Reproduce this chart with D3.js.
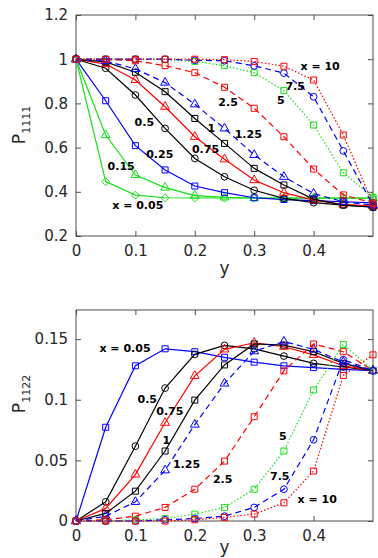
<!DOCTYPE html>
<html>
<head>
<meta charset="utf-8">
<script src="https://cdn.jsdelivr.net/npm/d3@7"></script>
<style>
    body { margin: 0; background: #fff; }
    svg { display: block; }
</style>
</head>
<body>
<div id="chart"></div>
<script>
// sampling points along y (shared by every curve)
const yGrid = [0, 0.05, 0.1, 0.15, 0.2, 0.25, 0.3, 0.35, 0.4, 0.45, 0.5]

// P1111, one array per x
const p1111_x005 = [1, 0.446, 0.385, 0.373, 0.372, 0.372, 0.372, 0.372, 0.372, 0.372, 0.372]
const p1111_x015 = [1, 0.657, 0.476, 0.419, 0.383, 0.375, 0.372, 0.371, 0.371, 0.371, 0.371]
const p1111_x025 = [1, 0.812, 0.609, 0.499, 0.426, 0.396, 0.373, 0.365, 0.36, 0.355, 0.35]
const p1111_x05 = [1, 0.959, 0.838, 0.687, 0.551, 0.468, 0.407, 0.37, 0.351, 0.34, 0.332]
const p1111_x075 = [1, 0.978, 0.906, 0.785, 0.649, 0.547, 0.453, 0.396, 0.362, 0.343, 0.335]
const p1111_x1 = [1, 0.988, 0.941, 0.853, 0.732, 0.619, 0.506, 0.431, 0.367, 0.34, 0.33]
const p1111_x125 = [1, 0.992, 0.956, 0.894, 0.796, 0.687, 0.567, 0.468, 0.392, 0.355, 0.34]
const p1111_x25 = [1, 0.998, 0.993, 0.971, 0.939, 0.873, 0.778, 0.649, 0.503, 0.386, 0.35]
const p1111_x5 = [1, 1, 1, 0.998, 0.99, 0.971, 0.939, 0.858, 0.702, 0.486, 0.375]
const p1111_x75 = [1, 1, 1, 1, 0.995, 0.993, 0.97, 0.937, 0.83, 0.585, 0.34]
const p1111_x10 = [1, 1, 1, 1, 1, 0.998, 0.99, 0.968, 0.906, 0.657, 0.345]

// P1122
const p1122_x005 = [0, 0.0773, 0.128, 0.142, 0.1396, 0.135, 0.131, 0.128, 0.1265, 0.125, 0.124]
const p1122_x05 = [0, 0.0158, 0.0617, 0.1096, 0.1374, 0.1448, 0.142, 0.136, 0.13, 0.127, 0.124]
const p1122_x075 = [0, 0.0104, 0.0383, 0.081, 0.1197, 0.1415, 0.147, 0.1437, 0.137, 0.128, 0.124]
const p1122_x1 = [0, 0.0063, 0.0246, 0.0577, 0.0997, 0.1287, 0.146, 0.145, 0.1396, 0.13, 0.124]
const p1122_x125 = [0, 0.004, 0.0158, 0.0418, 0.0795, 0.1134, 0.14, 0.148, 0.1415, 0.131, 0.124]
const p1122_x25 = [0, 0.001, 0.004, 0.0112, 0.0262, 0.0494, 0.086, 0.1238, 0.146, 0.1396, 0.124]
const p1122_x5 = [0, 0, 0.001, 0.002, 0.0057, 0.0112, 0.0262, 0.0577, 0.108, 0.1456, 0.124]
const p1122_x75 = [0, 0, 0, 0.001, 0.002, 0.004, 0.0112, 0.0262, 0.067, 0.133, 0.124]
const p1122_x10 = [0, 0, 0, 0, 0.001, 0.003, 0.0057, 0.015, 0.0412, 0.12, 0.137]

// tick labels
const xTicks = [0, 0.1, 0.2, 0.3, 0.4]
const yTicks1111 = [0.2, 0.4, 0.6, 0.8, 1, 1.2]
const yTicks1122 = [0, 0.05, 0.1, 0.15]

// curve annotations (text, then where they sit in data units)
const labels1111 = ['x = 0.05', '0.15', '0.25', '0.5', '0.75', '1', '1.25', '2.5', '5', '7.5', 'x = 10']
const labelX1111 = [0.104, 0.076, 0.141, 0.115, 0.218, 0.228, 0.29, 0.256, 0.345, 0.369, 0.411]
const labelY1111 = [0.34, 0.518, 0.57, 0.713, 0.594, 0.687, 0.66, 0.806, 0.815, 0.879, 0.969]
const labels1122 = ['x = 0.05', '0.5', '0.75', '1', '1.25', '2.5', '5', '7.5', 'x = 10']
const labelX1122 = [0.0825, 0.12, 0.158, 0.152, 0.186, 0.247, 0.348, 0.343, 0.406]
const labelY1122 = [0.1424, 0.1005, 0.0904, 0.067, 0.0467, 0.0342, 0.0697, 0.0369, 0.0178]

const GREEN = '#17e017'
const BLUE = '#0000ff'
const RED = '#ff0000'
const BLACK = '#000000'
const DASHED = '6,4'
const DOTTED = '1.5,2'

const series1111 = [
    { values: p1111_x005, color: GREEN, dash: null, marker: 'diamond' },
    { values: p1111_x015, color: GREEN, dash: null, marker: 'triangle' },
    { values: p1111_x025, color: BLUE, dash: null, marker: 'square' },
    { values: p1111_x05, color: BLACK, dash: null, marker: 'circle' },
    { values: p1111_x075, color: RED, dash: null, marker: 'triangle' },
    { values: p1111_x1, color: BLACK, dash: null, marker: 'square' },
    { values: p1111_x125, color: BLUE, dash: DASHED, marker: 'triangle' },
    { values: p1111_x25, color: RED, dash: DASHED, marker: 'square' },
    { values: p1111_x5, color: GREEN, dash: DOTTED, marker: 'square' },
    { values: p1111_x75, color: BLUE, dash: DASHED, marker: 'circle' },
    { values: p1111_x10, color: RED, dash: DOTTED, marker: 'square' }
]

const series1122 = [
    { values: p1122_x005, color: BLUE, dash: null, marker: 'square' },
    { values: p1122_x05, color: BLACK, dash: null, marker: 'circle' },
    { values: p1122_x075, color: RED, dash: null, marker: 'triangle' },
    { values: p1122_x1, color: BLACK, dash: null, marker: 'square' },
    { values: p1122_x125, color: BLUE, dash: DASHED, marker: 'triangle' },
    { values: p1122_x25, color: RED, dash: DASHED, marker: 'square' },
    { values: p1122_x5, color: GREEN, dash: DOTTED, marker: 'square' },
    { values: p1122_x75, color: BLUE, dash: DASHED, marker: 'circle' },
    { values: p1122_x10, color: RED, dash: DOTTED, marker: 'square' }
]

const WIDTH = 378
const HEIGHT = 558
const AXIS_COLOR = '#4d4d4d'
const TEXT_COLOR = '#262626'
const TICK_FONT = '15px "DejaVu Sans", sans-serif'
const TICK_LEN = 5

const symbols = {
    square: d3.symbol().type(d3.symbolSquare).size(36),
    circle: d3.symbol().type(d3.symbolCircle).size(36),
    triangle: d3.symbol().type(d3.symbolTriangle).size(34),
    diamond: d3.symbol().type(d3.symbolDiamond2).size(40)
}

const svg = d3.select('#chart')
    .append('svg')
    .attr('width', WIDTH)
    .attr('height', HEIGHT)

function drawPanel(opts) {
    const xscale = d3.scaleLinear()
        .domain([0, 0.5])
        .range([opts.left, opts.right])
    const yscale = d3.scaleLinear()
        .domain(opts.yDomain)
        .range([opts.bottom, opts.top])

    const g = svg.append('g')

    // box
    g.append('rect')
        .attr('x', opts.left)
        .attr('y', opts.top)
        .attr('width', opts.right - opts.left)
        .attr('height', opts.bottom - opts.top)
        .style('fill', 'none')
        .style('stroke', AXIS_COLOR)
        .style('stroke-width', 1)

    // bottom + left axes carry the labels, top + right only mirror the ticks
    const bottomAxis = g.append('g')
        .attr('transform', `translate(0,${opts.bottom})`)
        .call(d3.axisBottom(xscale).tickValues(xTicks).tickSizeInner(-TICK_LEN)
            .tickSizeOuter(0).tickPadding(9).tickFormat(d => String(d)))
    const leftAxis = g.append('g')
        .attr('transform', `translate(${opts.left},0)`)
        .call(d3.axisLeft(yscale).tickValues(opts.yTicks).tickSizeInner(-TICK_LEN)
            .tickSizeOuter(0).tickPadding(8).tickFormat(d => String(d)))
    const topAxis = g.append('g')
        .attr('transform', `translate(0,${opts.top})`)
        .call(d3.axisTop(xscale).tickValues(xTicks).tickSizeInner(-TICK_LEN)
            .tickSizeOuter(0).tickFormat(''))
    const rightAxis = g.append('g')
        .attr('transform', `translate(${opts.right},0)`)
        .call(d3.axisRight(yscale).tickValues(opts.yTicks).tickSizeInner(-TICK_LEN)
            .tickSizeOuter(0).tickFormat(''))

    for (const ax of [bottomAxis, leftAxis, topAxis, rightAxis]) {
        ax.select('.domain').remove()
        ax.selectAll('line').style('stroke', AXIS_COLOR)
        ax.selectAll('text')
            .style('font', TICK_FONT)
            .style('fill', TEXT_COLOR)
    }

    // curves
    const line = d3.line()
        .x((d, i) => xscale(yGrid[i]))
        .y(d => yscale(d))

    opts.series.forEach(s => {
        const curve = g.append('g')
        curve.append('path')
            .attr('d', line(s.values))
            .style('fill', 'none')
            .style('stroke', s.color)
            .style('stroke-width', 1.2)
            .style('stroke-dasharray', s.dash)

        curve.selectAll('.marker')
            .data(s.values)
            .enter()
            .append('path')
            .attr('class', 'marker')
            .attr('transform', (d, i) => `translate(${xscale(yGrid[i])},${yscale(d)})`)
            .attr('d', symbols[s.marker])
            .style('fill', 'none')
            .style('stroke', s.color)
            .style('stroke-width', 1)
    })

    // curve annotations
    g.selectAll('.curve-label')
        .data(opts.labels)
        .enter()
        .append('text')
        .attr('class', 'curve-label')
        .attr('x', (d, i) => xscale(opts.labelX[i]))
        .attr('y', (d, i) => yscale(opts.labelY[i]))
        .attr('dy', '0.35em')
        .text(d => d)
        .style('text-anchor', 'middle')
        .style('font', 'bold 11px "DejaVu Sans", sans-serif')
        .style('fill', '#000')

    // axis titles
    g.append('text')
        .attr('x', (opts.left + opts.right) / 2)
        .attr('y', Math.min(opts.bottom + 38, HEIGHT - 5))
        .text('y')
        .style('text-anchor', 'middle')
        .style('font', '17px "DejaVu Sans", sans-serif')
        .style('fill', TEXT_COLOR)

    const ytitle = g.append('text')
        .attr('transform', `translate(25,${opts.titleY}) rotate(-90)`)
        .style('text-anchor', 'middle')
        .style('font', '17px "DejaVu Sans", sans-serif')
        .style('fill', TEXT_COLOR)
    ytitle.append('tspan').text('P')
    ytitle.append('tspan')
        .attr('dy', 5)
        .style('font-size', '11px')
        .text(opts.subscript)
}

drawPanel({
    left: 76, right: 373, top: 15, bottom: 236,
    yDomain: [0.2, 1.2], yTicks: yTicks1111,
    series: series1111,
    labels: labels1111, labelX: labelX1111, labelY: labelY1111,
    subscript: '1111', titleY: 125
})

drawPanel({
    left: 76, right: 373, top: 310, bottom: 521,
    yDomain: [0, 0.174], yTicks: yTicks1122,
    series: series1122,
    labels: labels1122, labelX: labelX1122, labelY: labelY1122,
    subscript: '1122', titleY: 394
})
</script>
</body>
</html>
